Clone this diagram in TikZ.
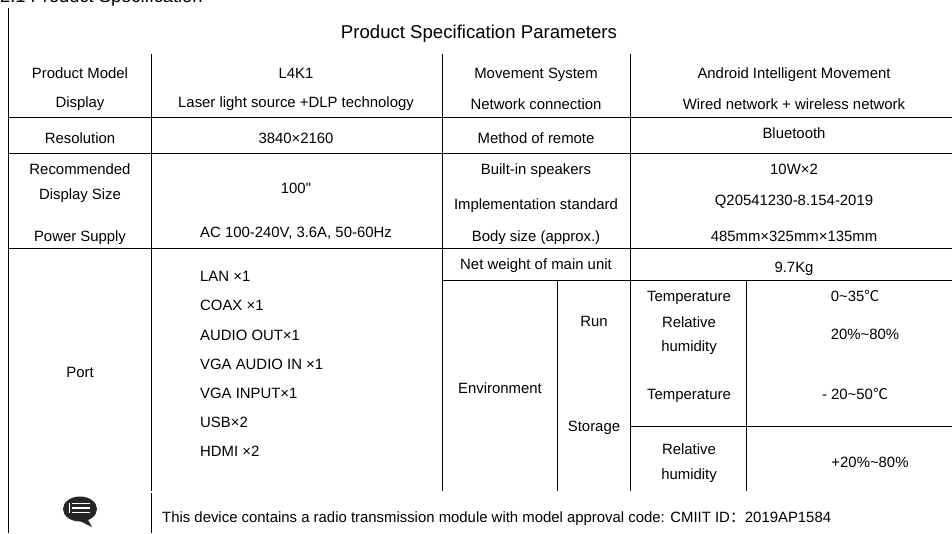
\documentclass[tikz,border=0pt]{standalone}
\usepackage{fontspec}
\setmainfont{Liberation Sans}
\newfontfamily\plainfont{Liberation Sans}
\newfontfamily\cjkfont{Noto Sans CJK SC}
\begin{document}
\begin{tikzpicture}[x=1pt,y=-1pt,
  rule/.style={draw=black,line width=0.9pt},
  cell/.style={inner sep=0pt,anchor=base,font=\fontsize{14.9}{15}\selectfont,text=black},
  lcell/.style={cell,anchor=base west},
  titlecell/.style={cell,font=\fontsize{18.6}{19}\selectfont}]
\useasboundingbox (0,0) rectangle (952,533);
\fill[white] (0,0) rectangle (952,533);
\begin{scope}
\clip (0,0) rectangle (952,533);
\node[lcell,font=\fontsize{18.3}{19}\selectfont] (head) at (0,2) {2.1 Product Specification};
\end{scope}
% rules
\draw[rule] (8,8) -- (8,533);
\draw[rule] (151.5,54) -- (151.5,491);
\draw[rule] (151.5,493) -- (151.5,533);
\draw[rule] (442,54) -- (442,491);
\draw[rule] (630.5,54) -- (630.5,491);
\draw[rule] (557.5,280.5) -- (557.5,491);
\draw[rule] (746.5,280.5) -- (746.5,491);
\draw[rule] (8,117.5) -- (952,117.5);
\draw[rule] (8,153.5) -- (952,153.5);
\draw[rule] (8,248.5) -- (952,248.5);
\draw[rule] (442,280.5) -- (952,280.5);
\draw[rule] (630.5,426.5) -- (952,426.5);
% title
\node[titlecell] (title) at (479,38) {Product Specification Parameters};
% left
\node[cell] (a1) at (80,78) {Product Model};
\node[cell] (a2) at (80,107) {Display};
\node[cell] (a3) at (80,143) {Resolution};
\node[cell] (a4) at (80,174) {Recommended};
\node[cell] (a5) at (80,199) {Display Size};
\node[cell] (a6) at (80,241) {Power Supply};
\node[cell] (a7) at (80,377) {Port};
\node[cell] (b1) at (296,78) {L4K1};
\node[cell] (b2) at (296,107) {Laser light source +DLP technology};
\node[cell] (b3) at (296,143) {3840×2160};
\node[cell] (b4) at (296,193) {100{\plainfont "}};
\node[cell] (b5) at (296,237) {AC 100-240V, 3.6A, 50-60Hz};
\node[lcell] (p1) at (200,281) {LAN ×1};
\node[lcell] (p2) at (200,310) {COAX ×1};
\node[lcell] (p3) at (200,340) {AUDIO OUT×1};
\node[lcell] (p4) at (200,369) {VGA AUDIO IN ×1};
\node[lcell] (p5) at (200,398) {VGA INPUT×1};
\node[lcell] (p6) at (200,427) {USB×2};
\node[lcell] (p7) at (200,456) {HDMI ×2};
% third column
\node[cell] (c1) at (536,78) {Movement System};
\node[cell] (c2) at (536,109) {Network connection};
\node[cell] (c3) at (536,143) {Method of remote};
\node[cell] (c4) at (536,174) {Built-in speakers};
\node[cell] (c5) at (536,209) {Implementation standard};
\node[cell] (c6) at (536,241) {Body size (approx.)};
\node[cell] (c7) at (536,269) {Net weight of main unit};
% fourth
\node[cell] (d1) at (794,78) {Android Intelligent Movement};
\node[cell] (d2) at (794,109) {Wired network + wireless network};
\node[cell] (d3) at (794,138) {Bluetooth};
\node[cell] (d4) at (794,174) {10W×2};
\node[cell] (d5) at (794,205) {Q20541230-8.154-2019};
\node[cell] (d6) at (794,241) {485mm×325mm×135mm};
\node[cell] (d7) at (794,272) {9.7Kg};
% environment
\node[cell] (e0) at (500,393) {Environment};
\node[cell] (e1) at (594,326) {Run};
\node[cell] (e2) at (594,431) {Storage};
\node[cell] (f1) at (689,301) {Temperature};
\node[cell] (f2) at (689,327) {Relative};
\node[cell] (f3) at (689,351) {humidity};
\node[cell] (f4) at (689,399) {Temperature};
\node[cell] (f5) at (689,454) {Relative};
\node[cell] (f6) at (689,479) {humidity};
\node[cell] (g1) at (855,301) {0\char`\~35{\cjkfont ℃}};
\node[cell] (g2) at (865,339) {20\%\char`\~80\%};
\node[cell] (g3) at (855,399) {- 20\char`\~50{\cjkfont ℃}};
\node[cell] (g4) at (870,467) {+20\%\char`\~80\%};
% note
\node[lcell] (note) at (162,522) {This device contains a radio transmission module with model approval code: CMIIT ID{\cjkfont ：}2019AP1584};
% icon
\fill[black!85] (80,509) ellipse (17 and 12.5);
\fill[black!85] (76,519) -- (87,518) -- (92,527) -- cycle;
\foreach \yy in {503.5,508,512.5}{\draw[white,line width=1.5pt] (72,\yy) -- (90,\yy);}
\draw[white,line width=1pt] (69,503) -- (69,513);
\end{tikzpicture}
\end{document}
